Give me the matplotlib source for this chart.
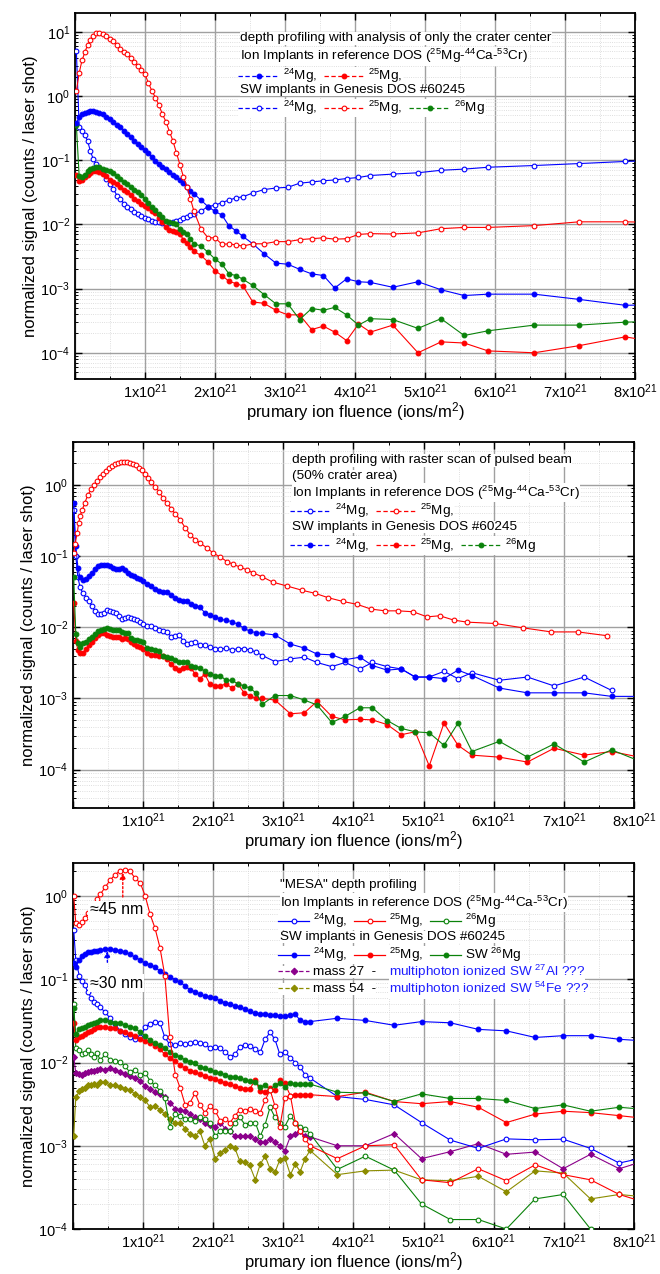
import numpy as np
import matplotlib
matplotlib.use("Agg")
import matplotlib.pyplot as plt
from matplotlib.lines import Line2D
from matplotlib.ticker import MultipleLocator, LogLocator, NullFormatter, FuncFormatter

plt.rcParams['font.family'] = ['Liberation Sans', 'DejaVu Sans']
plt.rcParams['mathtext.fontset'] = 'custom'
plt.rcParams['mathtext.rm'] = 'Liberation Sans'
plt.rcParams['mathtext.it'] = 'Liberation Sans:italic'
plt.rcParams['mathtext.bf'] = 'Liberation Sans:bold'

UNIT = 1e21  # fluence values below are in units of 1e21 ions/m^2

# ---------------- Panel 1: crater-centre analysis ----------------
P1_X = [0.02, 0.06, 0.10, 0.14, 0.18, 0.22, 0.26, 0.30,
        0.35, 0.40, 0.45, 0.50, 0.55, 0.60, 0.65, 0.70, 0.75, 0.80, 0.85, 0.90, 0.95, 1.00,
        1.05, 1.10, 1.15, 1.20, 1.25, 1.30, 1.35, 1.40, 1.45, 1.50, 1.55, 1.60, 1.65, 1.70,
        1.80, 1.90, 2.00, 2.10, 2.20, 2.30, 2.40,
        2.54, 2.70, 2.87, 3.04, 3.21, 3.38, 3.55, 3.71, 3.88, 4.05, 4.22,
        4.54, 4.90, 5.23, 5.56, 5.90, 6.56, 7.20, 7.86, 8.30]
P1_RED_OPEN = [1.2, 2.3, 3.6, 4.8, 6.3, 7.6, 8.7, 9.5,
               9.6, 9.2, 8.6, 7.9, 7.3, 6.3, 5.5, 4.9, 4.5, 3.9, 3.4, 3.0, 2.6, 2.2,
               1.6, 1.2, 0.95, 0.72, 0.52, 0.40, 0.28, 0.20, 0.13, 0.085, 0.055, 0.039, 0.025, 0.016,
               0.0085, 0.0062, 0.0062, 0.0049, 0.0050, 0.0048, 0.0046,
               0.0050, 0.0050, 0.0054, 0.0054, 0.0058, 0.0060, 0.0062, 0.0059, 0.0060, 0.0070, 0.0072,
               0.0071, 0.0074, 0.0086, 0.0090, 0.0090, 0.0096, 0.0110, 0.0110, 0.0108]
P1_BLUE_OPEN = [5.0, 0.33, 0.29, 0.25, 0.20, 0.14, 0.105, 0.088,
                0.074, 0.065, 0.052, 0.043, 0.036, 0.028, 0.025, 0.021, 0.0185, 0.0172, 0.0158, 0.0148, 0.0136, 0.0126,
                0.0120, 0.0114, 0.0110, 0.0108, 0.0106, 0.0101, 0.0104, 0.0108, 0.0112, 0.0118, 0.0126, 0.0133, 0.0140, 0.0148,
                0.0162, 0.019, 0.020, 0.022, 0.024, 0.026, 0.027,
                0.031, 0.035, 0.037, 0.038, 0.044, 0.046, 0.048, 0.0495, 0.052, 0.054, 0.058,
                0.061, 0.064, 0.070, 0.073, 0.078, 0.083, 0.089, 0.096, 0.100]
P1_BLUE_FILLED = [0.38, 0.47, 0.52, 0.55, 0.57, 0.58, 0.58, 0.57,
                  0.55, 0.52, 0.48, 0.44, 0.40, 0.36, 0.33, 0.29, 0.26, 0.23, 0.20, 0.18, 0.16, 0.145,
                  0.13, 0.112, 0.098, 0.088, 0.078, 0.072, 0.066, 0.060, 0.054, 0.050, 0.044, 0.038, 0.033, 0.030,
                  0.024, 0.019, 0.016, 0.014, 0.0095, 0.0080, 0.0065,
                  0.0050, 0.0035, 0.0025, 0.0024, 0.0020, 0.0017, 0.0016, 0.00102, 0.00142, 0.00128, 0.00125,
                  0.00105, 0.00128, 0.00096, 0.00078, 0.00082, 0.00082, 0.00068, 0.00055, 0.00056]
P1_GREEN_FILLED = [0.35, 0.056, 0.055, 0.060, 0.067, 0.072, 0.077, 0.079,
                   0.079, 0.074, 0.070, 0.067, 0.064, 0.057, 0.051, 0.046, 0.043, 0.038, 0.035, 0.032, 0.029, 0.025,
                   0.022, 0.019, 0.0167, 0.0148, 0.0132, 0.0115, 0.0108, 0.0105, 0.0100, 0.0086, 0.0076, 0.0070, 0.0060, 0.0050,
                   0.0046, 0.0037, 0.0029, 0.0024, 0.0017, 0.0016, 0.0014,
                   0.00112, 0.00081, 0.00058, 0.00058, 0.00033, 0.00049, 0.00046, 0.00051, 0.00039, 0.00027, 0.00034,
                   0.00033, 0.00024, 0.00034, 0.000186, 0.00022, 0.00027, 0.00027, 0.00030, 0.00031]
P1_RED_FILLED = [0.06, 0.047, 0.050, 0.055, 0.059, 0.064, 0.067, 0.068,
                 0.065, 0.062, 0.058, 0.050, 0.046, 0.042, 0.038, 0.035, 0.032, 0.029, 0.025, 0.023, 0.021, 0.0195,
                 0.018, 0.0165, 0.015, 0.0125, 0.011, 0.0093, 0.0082, 0.0079, 0.0075, 0.0070, 0.0058, 0.0051, 0.0045, 0.0038,
                 0.0033, 0.0026, 0.0019, 0.0016, 0.0013, 0.0012, 0.0011,
                 0.00062, 0.00059, 0.00046, 0.00039, 0.00039, 0.00023, 0.00026, 0.00021, 0.000155, 0.00028, 0.00021,
                 0.00027, 0.00010, 0.000148, 0.000142, 0.000107, 0.00010, 0.000129, 0.000177, 0.000148]

# ---------------- Panel 2: raster scan ----------------
P2_X = [0.01, 0.04, 0.07, 0.10, 0.14, 0.19, 0.23, 0.27, 0.31, 0.36, 0.40, 0.44, 0.48, 0.53, 0.57,
        0.61, 0.66, 0.70, 0.74, 0.78, 0.83, 0.87, 0.91, 0.96, 1.00,
        1.06, 1.11, 1.17, 1.23, 1.28, 1.34, 1.40, 1.46, 1.51, 1.57, 1.63, 1.68, 1.74,
        1.81, 1.88, 1.95, 2.03, 2.10,
        2.18, 2.27, 2.35, 2.44, 2.52, 2.61, 2.70,
        2.88, 3.10, 3.30, 3.48, 3.69, 3.88, 4.09, 4.27, 4.48, 4.68, 4.88, 5.08, 5.29, 5.49, 5.69,
        6.08, 6.48, 6.86, 7.29, 7.68, 8.23]
P2_BLUE_FILLED = [0.55, 0.14, 0.068, 0.050, 0.046, 0.048, 0.052, 0.058, 0.066, 0.072, 0.075, 0.075, 0.075, 0.072, 0.068,
                  0.066, 0.066, 0.068, 0.064, 0.058, 0.055, 0.053, 0.049, 0.047, 0.044,
                  0.041, 0.038, 0.035, 0.032, 0.031, 0.031, 0.028, 0.026, 0.024, 0.023, 0.023, 0.021, 0.020,
                  0.019, 0.016, 0.015, 0.014, 0.013,
                  0.0125, 0.012, 0.011, 0.0097, 0.0088, 0.0084, 0.0082,
                  0.0078, 0.0058, 0.0051, 0.0042, 0.0041, 0.0035, 0.0038, 0.0029, 0.0025, 0.0026, 0.0020, 0.0020, 0.0019, 0.0025, 0.0021,
                  0.0014, 0.0012, 0.0012, 0.0012, 0.00107, 0.00107]
P2_BLUE_OPEN = [0.45, 0.10, 0.05, 0.037, 0.030, 0.026, 0.023, 0.020, 0.017, 0.0155, 0.0155, 0.0160, 0.0175, 0.0170, 0.0165,
                0.0160, 0.0145, 0.0130, 0.0135, 0.0140, 0.0137, 0.0132, 0.0125, 0.0118, 0.0110,
                0.0104, 0.0104, 0.0097, 0.0092, 0.0090, 0.0085, 0.0074, 0.0075, 0.0078, 0.0065, 0.0058, 0.0061, 0.0062,
                0.0056, 0.0056, 0.0053, 0.0050, 0.0049,
                0.0051, 0.0048, 0.0050, 0.0050, 0.0048, 0.0045, 0.0040,
                0.0033, 0.0036, 0.0038, 0.0032, 0.0028, 0.0032, 0.0026, 0.0032, 0.0028, 0.0026, 0.0020, 0.0020, 0.0024, 0.0019, 0.0023,
                0.0018, 0.0020, 0.0015, 0.0020, 0.0013, np.nan]
P2_GREEN_FILLED = [0.05, 0.008, 0.006, 0.0053, 0.0060, 0.0063, 0.0068, 0.0074, 0.0080, 0.0088, 0.0093, 0.0096, 0.0097, 0.0095, 0.0092,
                   0.0092, 0.0092, 0.0087, 0.0084, 0.0082, 0.0070, 0.0066, 0.0066, 0.0065, 0.0062,
                   0.0051, 0.0049, 0.0048, 0.0046, 0.0040, 0.0038, 0.0037, 0.0035, 0.0033, 0.0033, 0.0033, 0.0029, 0.0028,
                   0.0027, 0.0024, 0.0022, 0.0021, 0.0021,
                   0.0018, 0.0018, 0.0016, 0.0015, 0.0014, 0.0012, 0.00083,
                   0.0011, 0.0011, 0.00095, 0.00081, 0.00046, 0.00056, 0.00074, 0.00074, 0.00049, 0.00038, 0.00034, 0.00033, 0.00022, 0.00045, 0.00018,
                   0.00025, 0.00015, 0.00023, 0.000128, 0.00019, 0.000115]
P2_RED_FILLED = [0.022, 0.0065, 0.0048, 0.0043, 0.0044, 0.0049, 0.0057, 0.0063, 0.0070, 0.0078, 0.0082, 0.0082, 0.0079, 0.0076, 0.0074,
                 0.0074, 0.0073, 0.0069, 0.0070, 0.0069, 0.0063, 0.0058, 0.0054, 0.0052, 0.0050,
                 0.0044, 0.0041, 0.0041, 0.0040, 0.0039, 0.0036, 0.0030, 0.0027, 0.0025, 0.0027, 0.0028, 0.0027, 0.0022,
                 0.0019, 0.0022, 0.0016, 0.0015, 0.0015,
                 0.0016, 0.0014, 0.0016, 0.0012, 0.0011, 0.0010, 0.0010,
                 0.00095, 0.00061, 0.00063, 0.00091, 0.00056, 0.00050, 0.00051, 0.00050, 0.00043, 0.00031, 0.00034, 0.000113, 0.00045, 0.00022, 0.00016,
                 0.00015, 0.000128, 0.00020, 0.00016, 0.00018, 0.00014]
P2_RED_OPEN_X = [0.01, 0.03, 0.06, 0.08, 0.10, 0.13, 0.17, 0.21, 0.26, 0.30, 0.34, 0.38, 0.43, 0.47, 0.51,
                 0.56, 0.60, 0.64, 0.68, 0.73, 0.77, 0.81, 0.86, 0.90, 0.94, 0.98, 1.03, 1.07, 1.11, 1.17,
                 1.23, 1.28, 1.34, 1.40, 1.46, 1.53, 1.60, 1.67, 1.74, 1.81, 1.91, 2.00, 2.10, 2.20, 2.28,
                 2.38, 2.48, 2.57, 2.70, 2.85, 3.05, 3.27, 3.45, 3.64, 3.85, 4.05, 4.25, 4.45, 4.64, 4.85,
                 5.05, 5.23, 5.43, 5.62, 6.02, 6.42, 6.82, 7.20, 7.62]
P2_RED_OPEN = [0.11, 0.15, 0.21, 0.29, 0.36, 0.44, 0.56, 0.72, 0.87, 1.0, 1.12, 1.28, 1.42, 1.58, 1.72,
               1.85, 1.95, 2.02, 2.06, 2.1, 2.1, 2.05, 1.97, 1.87, 1.75, 1.6, 1.42, 1.25, 1.1, 0.94,
               0.80, 0.66, 0.56, 0.46, 0.39, 0.32, 0.25, 0.20, 0.17, 0.153, 0.13, 0.11, 0.097, 0.083, 0.077,
               0.070, 0.064, 0.058, 0.051, 0.043, 0.038, 0.033, 0.030, 0.026, 0.023, 0.021, 0.018, 0.017, 0.017, 0.0165,
               0.014, 0.0145, 0.0126, 0.0118, 0.0113, 0.0098, 0.0086, 0.0086, 0.0076]

# ---------------- Panel 3: "MESA" depth profiling ----------------
P3_X = [0.01, 0.04, 0.09, 0.13, 0.17, 0.21, 0.26, 0.30, 0.34, 0.39,
        0.46, 0.53, 0.60, 0.67, 0.74, 0.81, 0.88, 0.96, 1.03, 1.10,
        1.17, 1.24, 1.31, 1.38, 1.46, 1.53, 1.60, 1.67, 1.74, 1.81,
        1.88, 1.95, 2.03, 2.10, 2.17, 2.24, 2.31, 2.38, 2.45, 2.52,
        2.60, 2.67, 2.74, 2.81, 2.88, 2.95, 3.02, 3.10, 3.17, 3.24, 3.31, 3.38,
        3.77, 4.17, 4.58, 4.97, 5.38, 5.78, 6.18, 6.59, 6.99, 7.38, 7.79, 8.23]
P3_RED_OPEN = [1.0, 0.47, 0.45, 0.49, 0.54, 0.62, 0.70, 0.80, 0.92, 1.05,
               1.28, 1.55, 1.80, 2.0, 2.07, 2.02, 1.65, 1.43, 1.0, 0.6,
               0.41, 0.24, 0.11, 0.02, 0.0071, 0.0049, 0.0031, 0.0033, 0.0043, 0.0031,
               0.0025, 0.0030, 0.0026, 0.0020, 0.0021, 0.0019, 0.0023, 0.0027, 0.0026, 0.0028,
               0.0026, 0.0025, 0.0035, 0.0047, 0.0030, 0.0017, 0.0037, 0.0040, 0.0019, 0.0015, 0.0012, 0.0010,
               0.0007, 0.0010, 0.00103, 0.00039, 0.00036, 0.00053, 0.00038, 0.00059, 0.00045, 0.00039, 0.00026, 0.0002]
P3_BLUE_FILLED = [0.157, 0.14, 0.17, 0.19, 0.20, 0.21, 0.21, 0.22, 0.22, 0.225,
                  0.23, 0.23, 0.225, 0.22, 0.21, 0.20, 0.185, 0.17, 0.155, 0.15,
                  0.14, 0.125, 0.115, 0.107, 0.099, 0.092, 0.083, 0.074, 0.071, 0.066,
                  0.063, 0.061, 0.059, 0.055, 0.052, 0.050, 0.048, 0.046, 0.044, 0.041,
                  0.039, 0.038, 0.038, 0.037, 0.037, 0.036, 0.036, 0.037, 0.038, 0.032, 0.031, 0.031,
                  0.034, 0.032, 0.028, 0.031, 0.030, 0.025, 0.024, 0.020, 0.021, 0.021, 0.019, 0.018]
P3_BLUE_OPEN = [0.39, 0.17, 0.11, 0.095, 0.085, 0.07, 0.06, 0.054, 0.05, 0.046,
                0.040, 0.034, 0.029, 0.024, 0.022, 0.020, 0.019, 0.020, 0.027, 0.029,
                0.031, 0.030, 0.020, 0.0165, 0.0162, 0.0172, 0.0165, 0.017, 0.0175, 0.017,
                0.0165, 0.015, 0.0152, 0.0148, 0.0132, 0.0118, 0.0125, 0.0155, 0.0162, 0.0158,
                0.0145, 0.0132, 0.019, 0.023, 0.019, 0.0125, 0.0135, 0.0113, 0.0100, 0.0088, 0.0071, 0.0065,
                0.0039, 0.0036, 0.0031, 0.0019, 0.00117, 0.00093, 0.00121, 0.00118, 0.0012, 0.00093, 0.00062, 0.00075]
P3_GREEN_FILLED = [0.045, 0.022, 0.025, 0.026, 0.027, 0.028, 0.029, 0.030, 0.031, 0.032,
                   0.032, 0.031, 0.030, 0.030, 0.028, 0.027, 0.026, 0.023, 0.021, 0.0185,
                   0.017, 0.0162, 0.015, 0.0134, 0.0123, 0.0117, 0.0107, 0.0102, 0.0098, 0.0088,
                   0.0086, 0.0082, 0.0077, 0.0075, 0.0071, 0.0067, 0.0067, 0.0065, 0.0062, 0.0060,
                   0.0058, 0.0051, 0.0053, 0.0047, 0.0053, 0.0056, 0.0051, 0.0056, 0.0055, 0.0055, 0.0055, 0.0055,
                   0.0044, 0.0043, 0.0034, 0.0042, 0.0037, 0.0037, 0.0035, 0.0028, 0.0031, 0.0026, 0.0029, 0.0027]
P3_RED_FILLED = [0.030, 0.0185, 0.020, 0.021, 0.022, 0.023, 0.024, 0.025, 0.027, 0.027,
                 0.027, 0.026, 0.026, 0.024, 0.023, 0.022, 0.021, 0.019, 0.018, 0.017,
                 0.016, 0.0145, 0.0125, 0.0112, 0.0103, 0.0093, 0.0085, 0.0080, 0.0076, 0.0073,
                 0.0069, 0.0066, 0.0063, 0.0060, 0.0057, 0.0055, 0.0052, 0.0050, 0.0048, 0.0048,
                 0.0062, 0.0045, 0.0044, 0.0049, 0.0047, 0.0062, 0.0056, 0.0040, 0.0041, 0.0041, 0.0041, 0.0041,
                 0.0039, 0.0044, 0.0034, 0.0032, 0.0034, 0.0029, 0.0019, 0.0024, 0.0026, 0.0025, 0.0023, 0.0021]
P3_GREEN_OPEN = [0.05, 0.015, 0.014, 0.0128, 0.013, 0.014, 0.0125, 0.0117, 0.013, 0.0107,
                 0.0125, 0.0107, 0.0104, 0.0102, 0.009, 0.0077, 0.0082, 0.0071, 0.0075, 0.006,
                 0.0053, 0.0046, 0.0037, 0.0017, 0.0024, 0.0023, 0.0021, 0.0021, 0.0020, 0.0022,
                 0.0021, 0.0019, 0.0013, 0.0015, 0.0015, 0.0015, 0.0019, 0.0022, 0.0018, 0.0019,
                 0.0019, 0.0013, 0.0018, 0.0029, 0.0022, 0.0019, 0.0017, 0.0023, 0.0019, 0.0017, 0.0016, 0.0014,
                 0.00052, 0.00075, 0.00051, 0.0002, 0.00013, 0.00013, 0.0001, 0.00023, 0.00026, 0.0001, 0.00006, 0.00004]
P3_MASS27 = [0.0117, 0.0075, 0.0073, 0.0071, 0.0075, 0.0077, 0.0080, 0.0078, 0.0082, 0.0084,
             0.0082, 0.0086, 0.0082, 0.0076, 0.0073, 0.0068, 0.0066, 0.0060, 0.0052, 0.0048,
             0.0044, 0.0042, 0.0039, 0.0033, 0.0028, 0.0027, 0.0026, 0.0024, 0.0022, 0.0021,
             0.0019, 0.0018, 0.0017, 0.0019, 0.0016, 0.0015, 0.0013, 0.0013, 0.0013, 0.0013,
             0.0012, 0.0011, 0.0011, 0.0012, 0.0011, 0.0010, 0.00086, 0.0013, 0.0014, 0.0015, 0.0013, 0.00128,
             0.0010, 0.0010, 0.0014, 0.0007, 0.00085, 0.00106, 0.00079, 0.00084, 0.00053, 0.00079, 0.00053, 0.00069]
P3_MASS54 = [0.0013, 0.0038, 0.0045, 0.0048, 0.0050, 0.0053, 0.0053, 0.0055, 0.0053, 0.0058,
             0.0058, 0.0053, 0.0053, 0.0051, 0.0048, 0.0047, 0.0042, 0.0039, 0.0035, 0.0029,
             0.0030, 0.0027, 0.0024, 0.0021, 0.0019, 0.0019, 0.0016, 0.0014, 0.0013, 0.0015,
             0.0010, 0.0012, 0.0007, 0.00081, 0.0009, 0.0010, 0.00093, 0.00065, 0.00063, 0.00058,
             0.00039, 0.0006, 0.00075, 0.00053, 0.00048, 0.00068, 0.00072, 0.00045, 0.0006, 0.00049, 0.0007, 0.00088,
             0.00045, 0.0005, 0.00051, 0.00039, 0.00038, 0.00043, 0.00028, 0.0005, 0.00047, 0.00023, 0.00026, 0.00024]

Y_LIMS = [(3.9e-5, 19.8), (2.9e-5, 4.0), (1e-4, 2.49)]

BLUE = '#0000ff'
RED = '#ff0000'
GREEN = '#0a820a'
PURPLE = '#8b008b'
OLIVE = '#8c8c00'
TXT_BLUE = '#1f1fff'
FS_LEG = 9.7
MS = 3.4


def series(ax, x, y, color, filled, marker='o', ms=MS):
    ax.plot(np.asarray(x) * UNIT, y, color=color, lw=0.8, marker=marker, ms=ms,
            mfc=color if filled else 'white', mec=color, mew=0.8, zorder=3)


def setup(ax, ylim):
    ax.set_yscale('log')
    ax.set_xlim(0, 8 * UNIT)
    ax.set_ylim(*ylim)
    ax.xaxis.set_major_locator(MultipleLocator(UNIT))
    ax.xaxis.set_minor_locator(MultipleLocator(0.5 * UNIT))

    def fmt(v, pos):
        k = int(round(v / UNIT))
        if k == 0:
            return ''
        return r'$\mathdefault{%dx10^{21}}$' % k
    ax.xaxis.set_major_formatter(FuncFormatter(fmt))
    ax.yaxis.set_major_locator(LogLocator(base=10, numticks=20))
    ax.yaxis.set_minor_locator(LogLocator(base=10, subs=np.arange(2, 10), numticks=20))
    ax.yaxis.set_minor_formatter(NullFormatter())
    ax.tick_params(which='both', direction='in', top=True, right=True, labelsize=10.5)
    ax.tick_params(which='major', length=5, width=1)
    ax.tick_params(axis='x', which='major', pad=2.5)
    ax.tick_params(which='minor', length=2.5, width=0.7)
    ax.grid(which='major', color='#a0a0a0', lw=1.0, ls='-')
    ax.grid(which='minor', color='#d4d4d4', lw=0.6, ls=':')
    ax.set_axisbelow(True)
    for s in ax.spines.values():
        s.set_linewidth(1.3)
    ax.set_ylabel('normalized signal (counts / laser shot)', fontsize=12, labelpad=2)
    ax.set_xlabel('prumary ion fluence (ions/m$^2$)', fontsize=12, labelpad=-1)


def text_line(ax, x, y, s, color='black'):
    ax.text(x, y, s, transform=ax.transAxes, ha='left', va='center', fontsize=FS_LEG, color=color,
            bbox=dict(facecolor='white', edgecolor='none', pad=0.2), zorder=6)


def handle(color, filled, ls, marker='o'):
    return Line2D([], [], color=color, lw=0.9, ls=ls, marker=marker, ms=MS,
                  mfc=color if filled else 'white', mec=color, mew=0.8)


def legend_row(ax, x, y, handles, labels, hl):
    leg = ax.legend(handles, labels, loc='center left', bbox_to_anchor=(x, y), bbox_transform=ax.transAxes,
                    ncol=len(handles), frameon=True, fancybox=False, framealpha=1, facecolor='white',
                    edgecolor='none', borderpad=0.0, borderaxespad=0, handlelength=hl, handletextpad=0.3,
                    handleheight=0.5, columnspacing=0.5, fontsize=FS_LEG, numpoints=1)
    leg.set_zorder(6)
    ax.add_artist(leg)


fig = plt.figure(figsize=(6.6, 12.74), dpi=100)
ax1 = fig.add_axes([0.1136, 0.7025, 0.8485, 0.2873])
ax2 = fig.add_axes([0.1106, 0.3658, 0.8500, 0.2873])
ax3 = fig.add_axes([0.1106, 0.0353, 0.8500, 0.2873])

DASH = (0, (3.5, 2))
M24, M25, M26 = r'$^{24}$Mg,', r'$^{25}$Mg,', r'$^{26}$Mg'
ION_LINE = r'Ion Implants in reference DOS ($^{25}$Mg-$^{44}$Ca-$^{53}$Cr)'
SW_LINE = 'SW implants in Genesis DOS #60245'

# Panel 1
setup(ax1, Y_LIMS[0])
series(ax1, P1_X, P1_BLUE_OPEN, BLUE, False)
series(ax1, P1_X, P1_RED_FILLED, RED, True)
series(ax1, P1_X, P1_GREEN_FILLED, GREEN, True)
series(ax1, P1_X, P1_BLUE_FILLED, BLUE, True)
series(ax1, P1_X, P1_RED_OPEN, RED, False)
text_line(ax1, 0.295, 0.931, 'depth profiling with analysis of only the crater center')
text_line(ax1, 0.295, 0.882, ION_LINE)
legend_row(ax1, 0.292, 0.827, [handle(BLUE, True, DASH), handle(RED, True, DASH)], [M24, M25], 3.0)
text_line(ax1, 0.295, 0.790, SW_LINE)
legend_row(ax1, 0.292, 0.740, [handle(BLUE, False, DASH), handle(RED, False, DASH), handle(GREEN, True, DASH)],
           [M24, M25, M26], 3.0)

# Panel 2
setup(ax2, Y_LIMS[1])
series(ax2, P2_X, P2_BLUE_OPEN, BLUE, False)
series(ax2, P2_X, P2_RED_FILLED, RED, True)
series(ax2, P2_X, P2_GREEN_FILLED, GREEN, True)
series(ax2, P2_X, P2_BLUE_FILLED, BLUE, True)
series(ax2, P2_RED_OPEN_X, P2_RED_OPEN, RED, False)
text_line(ax2, 0.39, 0.950, 'depth profiling with raster scan of pulsed beam')
text_line(ax2, 0.39, 0.906, '(50% crater area)')
text_line(ax2, 0.39, 0.862, ION_LINE)
legend_row(ax2, 0.387, 0.811, [handle(BLUE, False, DASH), handle(RED, False, DASH)], [M24, M25], 3.0)
text_line(ax2, 0.39, 0.768, SW_LINE)
legend_row(ax2, 0.387, 0.717, [handle(BLUE, True, DASH), handle(RED, True, DASH), handle(GREEN, True, DASH)],
           [M24, M25, M26], 3.0)

# Panel 3
setup(ax3, Y_LIMS[2])
series(ax3, P3_X, P3_MASS54, OLIVE, True, marker='D', ms=3.0)
series(ax3, P3_X, P3_MASS27, PURPLE, True, marker='D', ms=3.0)
series(ax3, P3_X, P3_GREEN_OPEN, GREEN, False)
series(ax3, P3_X, P3_BLUE_OPEN, BLUE, False)
series(ax3, P3_X, P3_RED_FILLED, RED, True)
series(ax3, P3_X, P3_GREEN_FILLED, GREEN, True)
series(ax3, P3_X, P3_BLUE_FILLED, BLUE, True)
series(ax3, P3_X, P3_RED_OPEN, RED, False)
text_line(ax3, 0.369, 0.939, '"MESA" depth profiling')
text_line(ax3, 0.369, 0.892, ION_LINE)
legend_row(ax3, 0.366, 0.842, [handle(BLUE, False, '-'), handle(RED, False, '-'), handle(GREEN, False, '-')],
           [M24, M25, M26], 2.3)
text_line(ax3, 0.369, 0.798, SW_LINE)
legend_row(ax3, 0.366, 0.749, [handle(BLUE, True, '-'), handle(RED, True, '-'), handle(GREEN, True, '-')],
           [M24, M25, r'SW $^{26}$Mg'], 2.3)
legend_row(ax3, 0.366, 0.702, [handle(PURPLE, True, DASH, 'D')], ['mass 27  -'], 2.3)
text_line(ax3, 0.563, 0.702, r'multiphoton ionized SW $^{27}$Al ???', TXT_BLUE)
legend_row(ax3, 0.366, 0.655, [handle(OLIVE, True, DASH, 'D')], ['mass 54  -'], 2.3)
text_line(ax3, 0.563, 0.655, r'multiphoton ionized SW $^{54}$Fe ???', TXT_BLUE)

ax3.annotate('', xy=(0.71 * UNIT, 2.05), xytext=(0.71 * UNIT, 0.9),
             arrowprops=dict(arrowstyle='-|>', color=RED, ls=(0, (1.5, 1.5)), lw=1.0, mutation_scale=9))
ax3.annotate('', xy=(0.49 * UNIT, 0.235), xytext=(0.49 * UNIT, 0.148),
             arrowprops=dict(arrowstyle='-|>', color=BLUE, ls=(0, (1.5, 1.5)), lw=1.0, mutation_scale=9))
ax3.text(0.62 * UNIT, 0.68, '\u224845 nm', ha='center', va='center', fontsize=11.5,
         bbox=dict(facecolor='white', edgecolor='none', pad=1.0), zorder=6)
ax3.text(0.62 * UNIT, 0.090, '\u224830 nm', ha='center', va='center', fontsize=11.5,
         bbox=dict(facecolor='white', edgecolor='none', pad=1.0), zorder=6)

fig.savefig('out.png', dpi=100)
